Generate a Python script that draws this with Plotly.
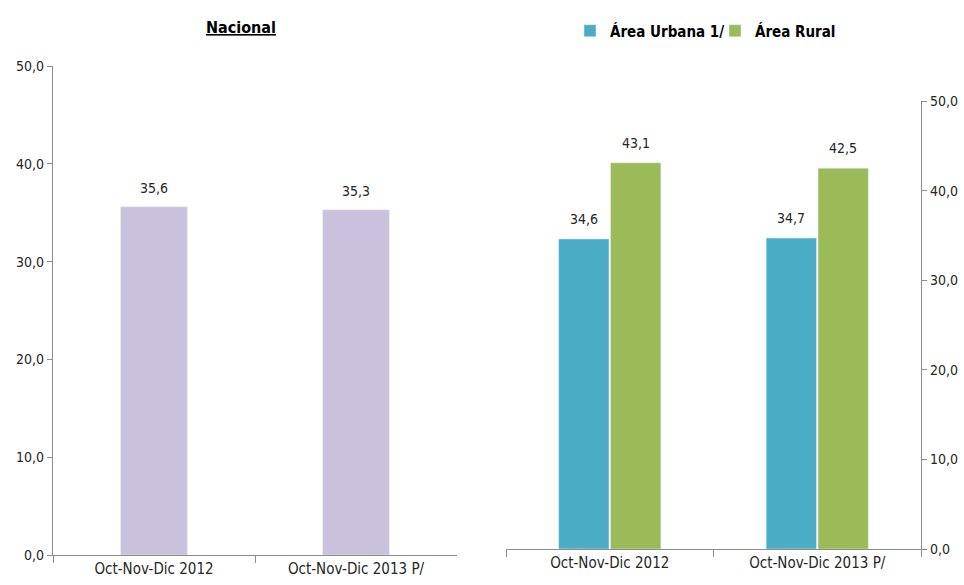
import plotly.graph_objects as go

categories = ["Oct-Nov-Dic 2012", "Oct-Nov-Dic 2013 P/"]
nacional = [35.6, 35.3]
urbana = [34.6, 34.7]
rural = [43.1, 42.5]
tick_vals = [0, 10, 20, 30, 40, 50]

FONT = "Liberation Sans Narrow, DejaVu Sans Condensed, Arial Narrow, sans-serif"
W, H = 964, 585
LABEL_FONT = dict(size=14, color="#262626")

fig = go.Figure()
fig.add_trace(go.Bar(
    x=categories, y=nacional, xaxis="x", yaxis="y", marker_color="#CAC1DC",
    width=0.33, showlegend=False,
))
fig.add_trace(go.Bar(
    x=categories, y=urbana, xaxis="x2", yaxis="y2", marker_color="#4BACC6",
    name="<b>Área Urbana 1/</b>",
))
fig.add_trace(go.Bar(
    x=categories, y=rural, xaxis="x2", yaxis="y2", marker_color="#9BBB59",
    name="<b>Área Rural</b>",
))

annotations = [dict(text="<b><u>Nacional</u></b>", x=241 / W, y=1 - 27 / H,
                    xref="paper", yref="paper", xanchor="center",
                    yanchor="middle", showarrow=False,
                    font=dict(size=16, color="#000000"))]


def fmt(v):
    return f"{v:.1f}".replace(".", ",")


for c, v in zip(categories, nacional):
    annotations.append(dict(x=c, y=v, xref="x", yref="y", text=fmt(v),
                            showarrow=False, yanchor="bottom", yshift=9,
                            font=LABEL_FONT))
for c, v in zip(categories, urbana):
    annotations.append(dict(x=c, y=v, xref="x2", yref="y2", text=fmt(v),
                            showarrow=False, yanchor="bottom", yshift=10,
                            xshift=-26, font=LABEL_FONT))
for c, v in zip(categories, rural):
    annotations.append(dict(x=c, y=v, xref="x2", yref="y2", text=fmt(v),
                            showarrow=False, yanchor="bottom", yshift=10,
                            xshift=26, font=LABEL_FONT))

axis_common = dict(showline=True, linecolor="#8C8C8C", linewidth=1.2,
                   showgrid=False, zeroline=False, ticks="outside",
                   automargin=False,
                   tickcolor="#8C8C8C", tickfont=dict(size=14, color="#262626"))

fig.update_layout(
    width=W, height=H,
    margin=dict(l=0, r=0, t=0, b=0, pad=0),
    paper_bgcolor="white", plot_bgcolor="white",
    font=dict(family=FONT, color="#262626"),
    separators=",.",
    barmode="group", bargap=0.5, bargroupgap=0.03,
    xaxis=dict(domain=[53 / W, 457 / W], anchor="y", tickson="boundaries",
               ticklen=7, **axis_common),
    yaxis=dict(domain=[1 - 555 / H, 1 - 66 / H], anchor="x", range=[0, 50],
               tickvals=tick_vals, tickformat=".1f", ticklen=5, **axis_common),
    xaxis2=dict(domain=[506 / W, 921 / W], anchor="y2", tickson="boundaries",
                ticklen=7, **axis_common),
    yaxis2=dict(domain=[1 - 549 / H, 1 - 101 / H], anchor="x2", side="right",
                range=[0, 50], tickvals=tick_vals, tickformat=".1f",
                ticklen=5, **axis_common),
    legend=dict(orientation="h", x=570 / W, y=1 - 31 / H, xanchor="left",
                yanchor="middle", font=dict(size=15, color="#000000"),
                itemwidth=30, entrywidth=100, traceorder="normal",
                bgcolor="rgba(0,0,0,0)"),
    annotations=annotations,
)
fig.update_xaxes(tickfont=dict(size=15, color="#262626"))

fig.write_html("out.html", config={"displayModeBar": False},
               post_script="document.body.style.margin='0';document.body.style.overflow='hidden';")
